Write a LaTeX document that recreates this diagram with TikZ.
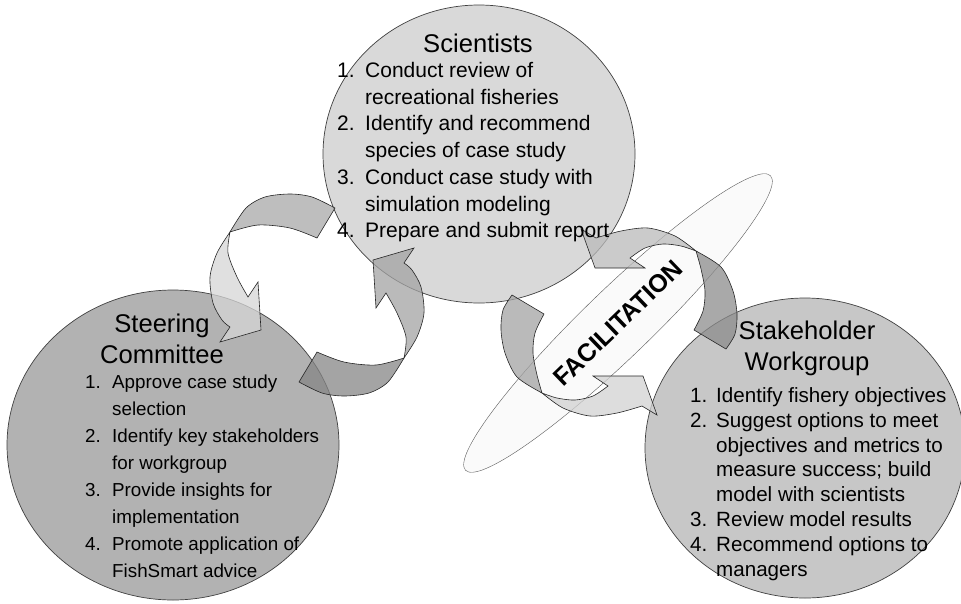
\documentclass[tikz,border=0pt]{standalone}
\usepackage{fontspec}
\setmainfont{Liberation Sans}
\usetikzlibrary{shapes.geometric}

\begin{document}
\begin{tikzpicture}[x=1pt,y=-1pt,
  bubble/.style={ellipse,draw=black!75,line width=0.7pt,inner sep=0pt},
  heading/.style={anchor=base,inner sep=0pt,font=\fontsize{25.6}{31}\selectfont},
  tasks/.style={anchor=base west,inner sep=0pt},
  ribbon/.style={draw=black!85,line width=0.6pt,fill opacity=0.75}]

  \useasboundingbox (0,0) rectangle (961,603);

  \node[bubble,fill=black!15,minimum width=312pt,minimum height=298pt] (sci)   at (479,154) {};
  \node[bubble,fill=black!30,minimum width=332pt,minimum height=310pt] (steer) at (173,445) {};
  \node[bubble,fill=black!22,minimum width=320pt,minimum height=300pt] (stake) at (805,448) {};

  \node[ellipse,draw=black!65,fill=black!2,minimum width=424pt,minimum height=68pt,
        rotate=44,inner sep=0pt,font=\bfseries\fontsize{25}{30}\selectfont] (fac) at (618,323) {FACILITATION};

  % left pair of curled arrows
  \foreach \turn/\back/\front in {0/black!34/black!16, 180/black!48/black!36} {
    \begin{scope}[rotate around={\turn:(317,295)}]
      \filldraw[ribbon,fill=\back] plot[smooth] coordinates {(335,208) (312,197) (290,194) (265,197) (246,208) (230,232)}
        -- plot[smooth] coordinates {(230,232) (258,225) (290,228) (317,238)} -- cycle;
      \filldraw[ribbon,fill=\front] plot[smooth] coordinates {(230,232) (217,253) (210,277) (213,303) (222,320) (230,327)}
        -- (220,342) -- (261,330) -- (258,282)
        -- plot[smooth] coordinates {(248,297) (237,277) (228,253) (230,232)} -- cycle;
    \end{scope}
  }

  % right pair of curled arrows
  \foreach \turn/\back/\front in {0/black!36/black!18, 180/black!45/black!27} {
    \begin{scope}[rotate around={\turn:(619,322)}]
      \filldraw[ribbon,fill=\back] plot[smooth] coordinates {(512,295) (503,310) (501,330) (505,353) (517,377) (542,393)}
        -- plot[smooth] coordinates {(542,393) (537,375) (533,353) (535,333) (544,314)} -- cycle;
      \filldraw[ribbon,fill=\front] plot[smooth] coordinates {(542,393) (563,408) (590,416) (617,413) (642,406)}
        -- (657,415) -- (643,376) -- (593,376)
        -- plot[smooth] coordinates {(608,386) (593,396) (575,400) (557,398) (542,393)} -- cycle;
    \end{scope}
  }

  \node[heading] (scit) at (478,52.2) {Scientists};
  \node[heading] (steert) at (162,332) {\begin{tabular}[t]{@{}c@{}}Steering\\Committee\end{tabular}};
  \node[heading] (staket) at (807,339) {\begin{tabular}[t]{@{}c@{}}Stakeholder\\Workgroup\end{tabular}};

  \node[tasks,font=\fontsize{21}{26.7}\selectfont] (scil) at (337,77.5) {\begin{tabular}[t]{@{}p{28pt}@{}l@{}}
    1.&Conduct review of\\&recreational fisheries\\
    2.&Identify and recommend\\&species of case study\\
    3.&Conduct case study with\\&simulation modeling\\
    4.&Prepare and submit report\end{tabular}};

  \node[tasks,font=\fontsize{18.8}{26.9}\selectfont] (steerl) at (85,388.7) {\begin{tabular}[t]{@{}p{27pt}@{}l@{}}
    1.&Approve case study\\&selection\\
    2.&Identify key stakeholders\\&for workgroup\\
    3.&Provide insights for\\&implementation\\
    4.&Promote application of\\&FishSmart advice\end{tabular}};

  \node[tasks,font=\fontsize{20.6}{24.8}\selectfont] (stakel) at (690,402.4) {\begin{tabular}[t]{@{}p{26pt}@{}l@{}}
    1.&Identify fishery objectives\\
    2.&Suggest options to meet\\&objectives and metrics to\\&measure success; build\\&model with scientists\\
    3.&Review model results\\
    4.&Recommend options to\\&managers\end{tabular}};

\end{tikzpicture}
\end{document}
